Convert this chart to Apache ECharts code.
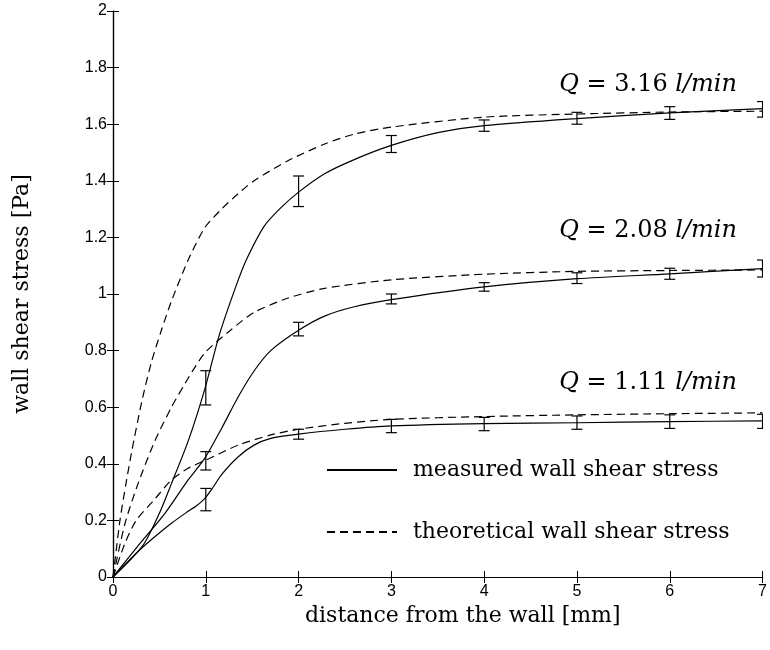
<!DOCTYPE html>
<html><head><meta charset="utf-8">
<script src="https://cdn.jsdelivr.net/npm/echarts@6/dist/echarts.min.js"></script>
<style>html,body{margin:0;padding:0;background:#fff}#c{width:770px;height:650px}</style>
</head><body><div id="c"></div><script>
// ---- data ----
var xTicks = [0,1,2,3,4,5,6,7];
var m316X = [0, 0.2, 0.34, 0.5, 0.63, 0.81, 0.99, 1.15, 1.35, 1.45, 1.63, 1.81, 2.0, 2.28, 2.6, 3, 3.5, 4, 5, 6, 7];
var m316Y = [0, 0.065, 0.12, 0.225, 0.33, 0.48, 0.665, 0.86, 1.05, 1.13, 1.24, 1.305, 1.36, 1.425, 1.475, 1.525, 1.57, 1.595, 1.62, 1.64, 1.655];
var t316X = [0, 0.075, 0.14, 0.2, 0.31, 0.415, 0.52, 0.63, 0.81, 0.99, 1.17, 1.35, 1.52, 1.88, 2.28, 2.6, 3, 4, 5, 6, 7];
var t316Y = [0, 0.2, 0.33, 0.44, 0.62, 0.76, 0.87, 0.975, 1.12, 1.235, 1.3, 1.355, 1.40, 1.47, 1.53, 1.565, 1.59, 1.625, 1.636, 1.643, 1.646];
var m208X = [0, 0.27, 0.56, 0.81, 0.99, 1.17, 1.35, 1.52, 1.70, 2.0, 2.28, 2.6, 3, 4, 5, 6, 7];
var m208Y = [0, 0.11, 0.225, 0.343, 0.42, 0.525, 0.637, 0.728, 0.80, 0.872, 0.922, 0.955, 0.98, 1.025, 1.054, 1.071, 1.09];
var t208X = [0, 0.13, 0.27, 0.45, 0.63, 0.77, 0.88, 1.0, 1.27, 1.52, 1.88, 2.28, 3, 4, 5, 6, 7];
var t208Y = [0, 0.19, 0.33, 0.48, 0.60, 0.68, 0.74, 0.796, 0.873, 0.935, 0.985, 1.02, 1.05, 1.07, 1.08, 1.083, 1.085];
var m111X = [0, 0.27, 0.45, 0.63, 0.81, 0.9, 0.99, 1.08, 1.17, 1.35, 1.52, 1.70, 2.0, 2.5, 3, 4, 5, 6, 7];
var m111Y = [0, 0.09, 0.142, 0.19, 0.232, 0.252, 0.278, 0.318, 0.362, 0.425, 0.466, 0.49, 0.505, 0.522, 0.534, 0.542, 0.545, 0.549, 0.552];
var t111X = [0, 0.13, 0.25, 0.45, 0.63, 0.81, 1.0, 1.35, 1.7, 2.0, 2.5, 3, 4, 5, 6, 7];
var t111Y = [0, 0.12, 0.2, 0.275, 0.343, 0.384, 0.413, 0.466, 0.502, 0.522, 0.543, 0.557, 0.567, 0.573, 0.577, 0.58];
// error bars (x, low, high)
var errX = [1, 2, 3, 4, 5, 6, 7];
var e316Lo = [0.608, 1.309, 1.50, 1.575, 1.60, 1.617, 1.625];
var e316Hi = [0.729, 1.417, 1.56, 1.615, 1.642, 1.662, 1.68];
var e208Lo = [0.378, 0.852, 0.965, 1.01, 1.037, 1.052, 1.06];
var e208Hi = [0.443, 0.900, 1.000, 1.04, 1.075, 1.091, 1.12];
var e111Lo = [0.234, 0.487, 0.51, 0.517, 0.522, 0.525, 0.525];
var e111Hi = [0.313, 0.522, 0.557, 0.564, 0.569, 0.573, 0.575];
var flowLabels = ['3.16', '2.08', '1.11'];
var nameMeasured = 'measured wall shear stress';
var nameTheory = 'theoretical wall shear stress';

function pairs(xs, ys){ return xs.map(function(x,i){ return [x, ys[i]]; }); }
function errData(lo, hi){ return errX.map(function(x,i){ return [x, lo[i], hi[i]]; }); }

var SERIF = 'DejaVu Serif';
var SANS = 'Liberation Sans';
var dash = [8,5];

function lineSeries(name, data, dashed){
  return {type:'line', name:name, data:data, smooth:0.25, symbol:'none', showSymbol:false,
    lineStyle:{color:'#000', width:1.2, type: dashed ? dash : 'solid'},
    itemStyle:{color:'#000'}, animation:false, z:3};
}
function errSeries(data){
  return {type:'custom', data:data, clip:true, animation:false, z:4, silent:true,
    renderItem:function(params, api){
      var x = api.value(0);
      var lo = api.coord([x, api.value(1)]);
      var hi = api.coord([x, api.value(2)]);
      var w = 5.5;
      var st = {stroke:'#000', lineWidth:1.2};
      return {type:'group', children:[
        {type:'line', shape:{x1:lo[0], y1:lo[1], x2:hi[0], y2:hi[1]}, style:st},
        {type:'line', shape:{x1:lo[0]-w, y1:lo[1], x2:lo[0]+w, y2:lo[1]}, style:st},
        {type:'line', shape:{x1:hi[0]-w, y1:hi[1], x2:hi[0]+w, y2:hi[1]}, style:st}
      ]};
    }};
}

var axisLine = {show:true, lineStyle:{color:'#000', width:1.2}};
var tick = {show:true, inside:true, length:6, lineStyle:{color:'#000', width:1}};
var chart = echarts.init(document.getElementById('c'), null, {renderer:'canvas'});
function qText(label, top){
  return {type:'text', right: 770-737, top: top, style:{
    text:'{i|Q} = ' + label + ' {i|l/min}', fontFamily:SERIF, fontSize:24, fill:'#000',
    rich:{i:{fontStyle:'italic', fontFamily:SERIF, fontSize:24}}}};
}
chart.setOption({
  backgroundColor:'#fff',
  animation:false,
  grid:{left:113, right:5, top:11, bottom:73},
  xAxis:[{type:'value', min:0, max:7, interval:1, position:'bottom',
      axisLine:axisLine, axisTick:tick, splitLine:{show:false},
      axisLabel:{color:'#000', fontFamily:SANS, fontSize:16, margin:7},
      name:'distance from the wall [mm]', nameLocation:'middle', nameGap:22,
      nameTextStyle:{color:'#000', fontFamily:SERIF, fontSize:22, padding:[0,0,0,50]}},
    {type:'value', min:0, max:7, interval:1, position:'top',
      axisLine:axisLine, axisTick:tick, splitLine:{show:false}, axisLabel:{show:false}}],
  yAxis:[{type:'value', min:0, max:2, interval:0.2, position:'left',
      axisLine:axisLine, axisTick:tick, splitLine:{show:false},
      axisLabel:{color:'#000', fontFamily:SANS, fontSize:16, margin:6},
      name:'wall shear stress [Pa]', nameLocation:'middle', nameGap:80,
      nameTextStyle:{color:'#000', fontFamily:SERIF, fontSize:22}},
    {type:'value', min:0, max:2, interval:0.2, position:'right',
      axisLine:axisLine, axisTick:tick, splitLine:{show:false}, axisLabel:{show:false}}],
  legend:{orient:'vertical', left:321, top:453, itemWidth:70, itemHeight:14, itemGap:38,
    data:[nameMeasured, nameTheory], selectedMode:false,
    itemStyle:{opacity:0},
    textStyle:{color:'#000', fontFamily:SERIF, fontSize:22, lineHeight:24, padding:[0,0,0,11]}},
  graphic:[qText(flowLabels[0], 73), qText(flowLabels[1], 219), qText(flowLabels[2], 371)],
  series:[
    lineSeries(nameMeasured, pairs(m316X, m316Y), false),
    lineSeries(nameTheory, pairs(t316X, t316Y), true),
    lineSeries(nameMeasured, pairs(m208X, m208Y), false),
    lineSeries(nameTheory, pairs(t208X, t208Y), true),
    lineSeries(nameMeasured, pairs(m111X, m111Y), false),
    lineSeries(nameTheory, pairs(t111X, t111Y), true),
    errSeries(errData(e316Lo, e316Hi)),
    errSeries(errData(e208Lo, e208Hi)),
    errSeries(errData(e111Lo, e111Hi))
  ]
});
</script></body></html>
